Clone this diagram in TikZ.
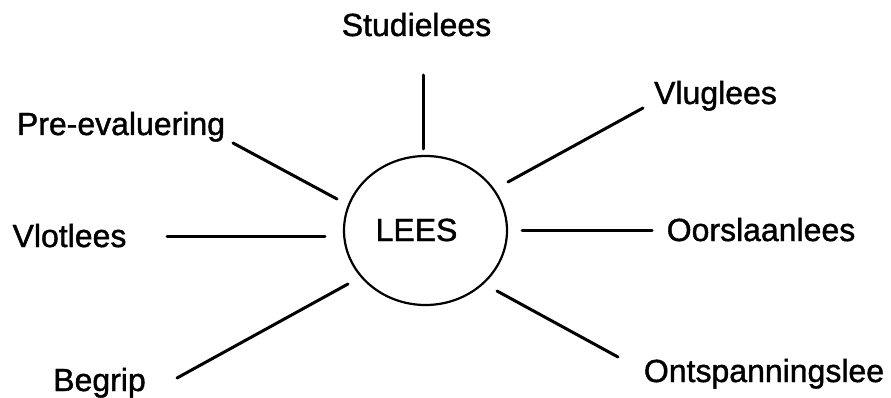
\documentclass[tikz,border=0pt]{standalone}
\usepackage{fontspec}
\setmainfont{Liberation Sans}
\newfontfamily\labelfont{Liberation Sans}[FakeBold=1.3]
\usepackage{tikz}
\usetikzlibrary{
  shapes.geometric,         % ellipse shape for the centre
  positioning               % relative placement
}
\tikzset{
  spoke/.style={
    line width=3pt,
    line cap=round,
    color=black
  },
  hub/.style={
    ellipse,
    draw=black,
    line width=2.2pt,
    minimum width=163pt,
    minimum height=149pt,
    inner sep=0pt
  },
  word/.style={
    anchor=base,
    inner sep=0pt,
    font=\labelfont\fontsize{32}{38}\selectfont
  }
}

\begin{document}
\begin{tikzpicture}[x=1pt, y=-1pt]

  % canvas = image pixels, y pointing down
  \useasboundingbox (0,0) rectangle (891,398);

  % ======================= centre =======================
  \node[hub] (lees) at (425.5, 230.5) {};
  \node[word] (leestxt) at (416.5, 241) {LEES};

  % ======================= labels =======================
  \node[word] (studie)   at (416.5, 36) {Studielees};
  \node[word] (vlug)     at (715.5, 104) {Vluglees};
  \node[word] (pre)      at (121, 135)  {Pre-evaluering};
  \node[word] (vlot)     at (69.5, 247) {Vlotlees};
  \node[word] (oorslaan) at (761, 241)  {Oorslaanlees};
  \node[word] (begrip)   at (99.5, 391) {Begrip};
  \node[word] (ontspan)  at (764, 382)  {Ontspanningslee};

  % ======================= spoke ends =======================
  % inner ends (a small gap from the ellipse)
  \coordinate (studieIn)   at (423, 149);
  \coordinate (vlugIn)     at (508, 182);
  \coordinate (preIn)      at (337, 199);
  \coordinate (vlotIn)     at (325, 236);
  \coordinate (oorslaanIn) at (522, 230);
  \coordinate (begripIn)   at (348, 284);
  \coordinate (ontspanIn)  at (497, 291);
  % outer ends (a small gap from the label)
  \coordinate (studieOut)   at (423, 75);
  \coordinate (vlugOut)     at (643, 108);
  \coordinate (preOut)      at (233, 143);
  \coordinate (vlotOut)     at (167, 236);
  \coordinate (oorslaanOut) at (652, 230);
  \coordinate (begripOut)   at (177, 378);
  \coordinate (ontspanOut)  at (618, 357);

  % ======================= spokes =======================
  \foreach \s in {studie, vlug, pre, vlot, oorslaan, begrip, ontspan}
    \draw[spoke] (\s In) -- (\s Out);

\end{tikzpicture}
\end{document}
